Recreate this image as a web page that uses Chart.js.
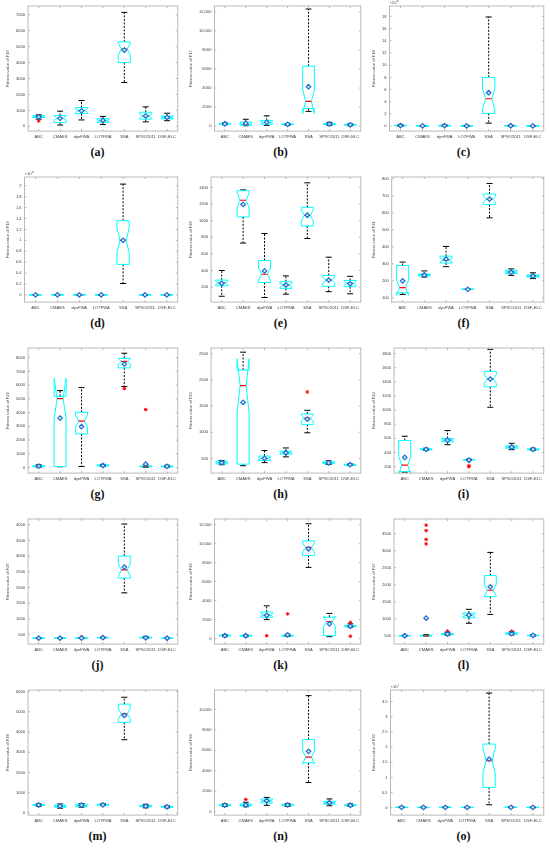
<!DOCTYPE html>
<html>
<head>
<meta charset="utf-8">
<script src="https://cdn.jsdelivr.net/npm/chart.js"></script>
<style>
  body { margin: 0; background: #fff; width: 550px; height: 855px; position: relative; overflow: hidden; }
  .panel { position: absolute; width: 183px; height: 142px; }
  .cap { position: absolute; width: 183px; height: 18px; line-height: 18px; text-align: center;
         font: bold 12px "Liberation Serif", "DejaVu Serif", serif; color: #111; }
</style>
</head>
<body>
<script>
const algorithms = ["ABC", "CMAES", "dynFWA", "LOTFWA", "SSA", "SPSO2011", "DSF-ELC"];
const runs = 30;

// each row: [lower whisker, Q1, median, Q3, upper whisker]
const f16Box = [[450,550,620,670,720],[80,230,500,680,950],[400,800,980,1180,1620],[110,250,360,480,620],[2750,4000,4850,5300,7150],[280,450,640,880,1220],[350,470,570,650,820]];
const f16Mean = [590,500,970,370,4780,650,560];
const f16Out = [[0,330]];
const f16Ticks = [0,1000,2000,3000,4000,5000,6000,7000];

const f17Box = [[150,200,240,290,340],[40,100,170,420,720],[80,200,380,600,1080],[80,150,190,230,280],[1550,1850,2600,6300,12300],[80,150,200,280,400],[40,90,140,190,250]];
const f17Mean = [250,300,400,190,4150,220,140];
const f17Out = [];
const f17Ticks = [0,2000,4000,6000,8000,10000,12000];

const f18Box = [[0.02,0.06,0.1,0.15,0.25],[0.01,0.03,0.05,0.08,0.12],[0.02,0.05,0.08,0.12,0.2],[0.01,0.03,0.06,0.09,0.14],[0.5,2.1,4.5,8.0,17.9],[0.01,0.04,0.07,0.1,0.16],[0.01,0.03,0.05,0.08,0.12]];
const f18Mean = [0.11,0.06,0.09,0.06,5.5,0.07,0.06];
const f18Out = [];
const f18Ticks = [0,2,4,6,8,10,12,14,16,18];

const f19Box = [[0,0.001,0.002,0.003,0.005],[0,0.001,0.002,0.003,0.004],[0,0.001,0.002,0.003,0.005],[0,0.001,0.002,0.003,0.004],[0.21,0.56,1.0,1.36,2.03],[0,0.001,0.002,0.003,0.005],[0,0.001,0.002,0.003,0.004]];
const f19Mean = [0.002,0.002,0.002,0.002,1.0,0.002,0.002];
const f19Out = [];
const f19Ticks = [0,0.2,0.4,0.6,0.8,1,1.2,1.4,1.6,1.8,2];

const f20Box = [[90,215,250,285,400],[730,1045,1245,1360,1370],[75,255,355,520,845],[115,185,225,265,335],[785,935,1065,1160,1455],[145,210,285,340,560],[120,205,245,280,330]];
const f20Mean = [245,1195,395,225,1065,285,240];
const f20Out = [];
const f20Ticks = [200,400,600,800,1000,1200,1400];

const f21Box = [[120,130,160,290,310],[222,228,235,240,258],[283,305,322,345,402],[149,150,150,151,152],[570,648,680,710,772],[232,243,252,262,270],[213,222,228,235,247]];
const f21Mean = [200,234,328,150,680,250,228];
const f21Out = [];
const f21Ticks = [100,200,300,400,500,600,700,800];

const f22Box = [[20,60,100,140,200],[60,70,5020,5180,5600],[80,2450,3380,4020,5820],[80,120,150,190,230],[5900,7250,7720,7950,8320],[20,50,80,120,200],[20,50,80,110,170]];
const f22Mean = [100,3600,2980,150,7530,250,90];
const f22Out = [[4,5750],[5,4220]];
const f22Ticks = [0,1000,2000,3000,4000,5000,6000,7000,8000];

const f23Box = [[380,395,420,445,460],[360,390,1890,2190,2530],[420,460,500,545,650],[530,580,610,640,700],[990,1150,1270,1350,1420],[385,400,415,435,455],[365,372,380,388,395]];
const f23Mean = [420,1570,500,610,1250,415,380];
const f23Out = [[4,1770]];
const f23Ticks = [500,1000,1500,2000,2500];

const f24Box = [[120,130,220,570,630],[430,438,445,452,460],[510,550,575,600,710],[290,295,298,300,305],[1040,1330,1440,1550,1860],[440,460,475,495,530],[430,437,443,450,460]];
const f24Mean = [330,445,575,290,1440,475,443];
const f24Out = [[3,210],[3,198]];
const f24Ticks = [200,400,600,800,1000,1200,1400,1600,1800];

const f25Box = [[380,385,387,390,395],[383,385,387,390,393],[380,385,390,400,410],[395,400,405,410,420],[1830,2300,2560,3000,4020],[385,395,405,420,445],[380,383,386,389,392]];
const f25Mean = [387,387,390,405,2650,400,386];
const f25Out = [[2,430]];
const f25Ticks = [500,1000,1500,2000,2500,3000,3500,4000];

const f26Box = [[200,280,320,360,420],[200,260,300,340,380],[2000,2250,2500,2800,3450],[220,270,300,350,450],[7500,8750,9600,10300,12100],[200,300,1800,2250,2650],[1200,1250,1320,1380,1550]];
const f26Mean = [320,300,2450,380,9450,1550,1300];
const f26Out = [[2,300],[3,2600],[6,1700],[6,250]];
const f26Ticks = [0,2000,4000,6000,8000,10000,12000];

const f27Box = [[495,500,505,510,520],[495,500,505,520,540],[520,535,550,570,610],[870,1030,1100,1170,1280],[1130,1650,1840,2270,2950],[530,550,570,590,620],[500,505,512,520,535]];
const f27Mean = [505,1020,555,1110,1940,570,515];
const f27Out = [[1,3200],[1,3330],[1,3590],[1,3750],[2,640],[5,640]];
const f27Ticks = [500,1000,1500,2000,2500,3000,3500];

const f28Box = [[330,370,390,410,440],[230,280,330,390,440],[280,310,370,430,460],[360,380,400,420,450],[3620,4480,4900,5380,5720],[250,300,330,370,420],[250,280,300,320,350]];
const f28Mean = [390,330,380,400,4820,330,300];
const f28Out = [];
const f28Ticks = [0,1000,2000,3000,4000,5000,6000];

const f29Box = [[500,580,640,690,760],[480,560,640,760,920],[620,850,1050,1250,1400],[520,590,660,730,800],[2850,4780,5330,7050,11350],[580,740,850,1020,1250],[520,580,630,680,760]];
const f29Mean = [640,650,1080,660,5900,880,630];
const f29Out = [[1,1200]];
const f29Ticks = [0,2000,4000,6000,8000,10000];

const f30Box = [[0.005,0.01,0.015,0.02,0.03],[0.004,0.008,0.012,0.018,0.025],[0.005,0.01,0.015,0.02,0.03],[0.004,0.008,0.012,0.018,0.025],[0.1,0.67,1.55,2.1,3.78],[0.005,0.01,0.015,0.02,0.03],[0.004,0.008,0.012,0.018,0.025]];
const f30Mean = [0.015,0.012,0.015,0.012,1.6,0.015,0.012];
const f30Out = [];
const f30Ticks = [0,0.5,1,1.5,2,2.5,3,3.5];

const panels = [
  { tag: "(a)", fn: "F16", box: f16Box, mean: f16Mean, out: f16Out, ticks: f16Ticks, min: -300, max: 7550 },
  { tag: "(b)", fn: "F17", box: f17Box, mean: f17Mean, out: f17Out, ticks: f17Ticks, min: -520, max: 12620 },
  { tag: "(c)", fn: "F18", box: f18Box, mean: f18Mean, out: f18Out, ticks: f18Ticks, min: -0.8, max: 19.7, exp: "6" },
  { tag: "(d)", fn: "F19", box: f19Box, mean: f19Mean, out: f19Out, ticks: f19Ticks, min: -0.13, max: 2.16, exp: "8" },
  { tag: "(e)", fn: "F20", box: f20Box, mean: f20Mean, out: f20Out, ticks: f20Ticks, min: 20, max: 1525 },
  { tag: "(f)", fn: "F21", box: f21Box, mean: f21Mean, out: f21Out, ticks: f21Ticks, min: 75, max: 810 },
  { tag: "(g)", fn: "F22", box: f22Box, mean: f22Mean, out: f22Out, ticks: f22Ticks, min: -400, max: 8700 },
  { tag: "(h)", fn: "F23", box: f23Box, mean: f23Mean, out: f23Out, ticks: f23Ticks, min: 220, max: 2610 },
  { tag: "(i)", fn: "F24", box: f24Box, mean: f24Mean, out: f24Out, ticks: f24Ticks, min: 108, max: 1880 },
  { tag: "(j)", fn: "F25", box: f25Box, mean: f25Mean, out: f25Out, ticks: f25Ticks, min: 200, max: 4180 },
  { tag: "(k)", fn: "F26", box: f26Box, mean: f26Mean, out: f26Out, ticks: f26Ticks, min: -580, max: 12600 },
  { tag: "(l)", fn: "F27", box: f27Box, mean: f27Mean, out: f27Out, ticks: f27Ticks, min: 260, max: 3930 },
  { tag: "(m)", fn: "F28", box: f28Box, mean: f28Mean, out: f28Out, ticks: f28Ticks, min: -110, max: 6080 },
  { tag: "(n)", fn: "F29", box: f29Box, mean: f29Mean, out: f29Out, ticks: f29Ticks, min: -330, max: 11900 },
  { tag: "(o)", fn: "F30", box: f30Box, mean: f30Mean, out: f30Out, ticks: f30Ticks, min: -0.24, max: 3.88, exp: "7" },
];

const tickFont = { family: "Liberation Sans", size: 4.1 };
const tickColor = "#404040";

function fmt(v) {
  return v >= 10000 ? v.toLocaleString("en-US") : String(v);
}

function drawBoxes(chart, pn) {
  const { ctx, chartArea: a, scales: { x, y } } = chart;
  const step = x.getPixelForValue(1) - x.getPixelForValue(0);
  const w = step * 0.56;
  const Y = v => y.getPixelForValue(v);
  ctx.save();
  ctx.beginPath();
  ctx.rect(a.left, a.top, a.width, a.height);
  ctx.clip();
  pn.box.forEach((s, i) => {
    const [lw, q1, md, q3, hw] = s;
    const cx = x.getPixelForValue(i);
    const nd = 1.57 * (q3 - q1) / Math.sqrt(runs);
    const L = cx - w / 2, R = cx + w / 2, Lm = cx - w / 4, Rm = cx + w / 4;

    // whiskers
    ctx.strokeStyle = "#000";
    ctx.lineWidth = 1;
    ctx.setLineDash([2, 1.5]);
    ctx.beginPath();
    ctx.moveTo(cx, Y(q3)); ctx.lineTo(cx, Y(hw));
    ctx.moveTo(cx, Y(q1)); ctx.lineTo(cx, Y(lw));
    ctx.stroke();
    ctx.setLineDash([]);
    ctx.beginPath();
    ctx.moveTo(Lm, Y(hw)); ctx.lineTo(Rm, Y(hw));
    ctx.moveTo(Lm, Y(lw)); ctx.lineTo(Rm, Y(lw));
    ctx.stroke();

    // notched box
    ctx.strokeStyle = "#00ffff";
    ctx.lineWidth = 1;
    ctx.beginPath();
    ctx.moveTo(L, Y(q1)); ctx.lineTo(L, Y(md - nd)); ctx.lineTo(Lm, Y(md));
    ctx.lineTo(L, Y(md + nd)); ctx.lineTo(L, Y(q3)); ctx.lineTo(R, Y(q3));
    ctx.lineTo(R, Y(md + nd)); ctx.lineTo(Rm, Y(md)); ctx.lineTo(R, Y(md - nd));
    ctx.lineTo(R, Y(q1));
    ctx.closePath();
    ctx.stroke();

    // median
    ctx.strokeStyle = "#ff0000";
    ctx.lineWidth = 1.2;
    ctx.beginPath();
    ctx.moveTo(Lm, Y(md)); ctx.lineTo(Rm, Y(md));
    ctx.stroke();
  });
  ctx.restore();
}

function drawFrame(chart, pn) {
  const { ctx, chartArea: a, scales: { x, y } } = chart;
  ctx.save();
  ctx.strokeStyle = "#a8a8a8";
  ctx.lineWidth = 0.8;
  ctx.strokeRect(a.left, a.top, a.width, a.height);
  ctx.beginPath();
  algorithms.forEach((c, i) => {
    const px = x.getPixelForValue(i);
    ctx.moveTo(px, a.bottom); ctx.lineTo(px, a.bottom - 2);
    ctx.moveTo(px, a.top); ctx.lineTo(px, a.top + 2);
  });
  pn.ticks.forEach(v => {
    const py = y.getPixelForValue(v);
    ctx.moveTo(a.left, py); ctx.lineTo(a.left + 2, py);
    ctx.moveTo(a.right, py); ctx.lineTo(a.right - 2, py);
  });
  ctx.stroke();
  if (pn.exp) {
    ctx.fillStyle = tickColor;
    ctx.textBaseline = "bottom";
    ctx.font = "4.1px 'Liberation Sans'";
    ctx.fillText("\u00d710", a.left, a.top - 1);
    const tw = ctx.measureText("\u00d710").width;
    ctx.font = "3.2px 'Liberation Sans'";
    ctx.fillText(pn.exp, a.left + tw + 0.3, a.top - 3);
  }
  ctx.restore();
}

panels.forEach((pn, k) => {
  const col = k % 3, row = Math.floor(k / 3);
  const div = document.createElement("div");
  div.className = "panel";
  div.style.left = (col * 183) + "px";
  div.style.top = (row * 171) + "px";
  const canvas = document.createElement("canvas");
  div.appendChild(canvas);
  document.body.appendChild(div);

  const cap = document.createElement("div");
  cap.className = "cap";
  cap.textContent = pn.tag;
  cap.style.left = (col * 183 + 6) + "px";
  cap.style.top = (row * 171 + 145) + "px";
  document.body.appendChild(cap);

  new Chart(canvas.getContext("2d"), {
    type: "line",
    data: {
      labels: algorithms,
      datasets: [
        {
          data: pn.mean,
          showLine: false,
          pointStyle: "rectRot",
          pointRadius: 2.3,
          borderColor: "#1f6fd1",
          backgroundColor: "#d6ebff",
          borderWidth: 1.2,
        },
        {
          data: pn.out.map(([i, v]) => ({ x: algorithms[i], y: v })),
          showLine: false,
          pointStyle: "star",
          pointRadius: 1.8,
          borderColor: "#ff0000",
          backgroundColor: "#ff0000",
          borderWidth: 1,
        },
      ],
    },
    options: {
      animation: false,
      responsive: true,
      maintainAspectRatio: false,
      layout: { padding: { top: 6, right: 5, left: 5, bottom: 0 } },
      plugins: { legend: { display: false }, tooltip: { enabled: false } },
      scales: {
        x: {
          offset: true,
          grid: { display: false, drawTicks: false },
          border: { display: false },
          ticks: { font: tickFont, color: tickColor, maxRotation: 0, autoSkip: false, padding: 3 },
        },
        y: {
          min: pn.min,
          max: pn.max,
          grid: { display: false, drawTicks: false },
          border: { display: false },
          afterBuildTicks: s => { s.ticks = pn.ticks.map(v => ({ value: v })); },
          ticks: { font: tickFont, color: tickColor, padding: 3, callback: v => fmt(v) },
          title: {
            display: true,
            text: "Fitness value of " + pn.fn,
            font: tickFont,
            color: tickColor,
            padding: { top: 0, bottom: 3 },
          },
        },
      },
    },
    plugins: [{
      id: "boxes",
      beforeDatasetsDraw: chart => drawBoxes(chart, pn),
      afterDraw: chart => drawFrame(chart, pn),
    }],
  });
});
</script>
</body>
</html>
